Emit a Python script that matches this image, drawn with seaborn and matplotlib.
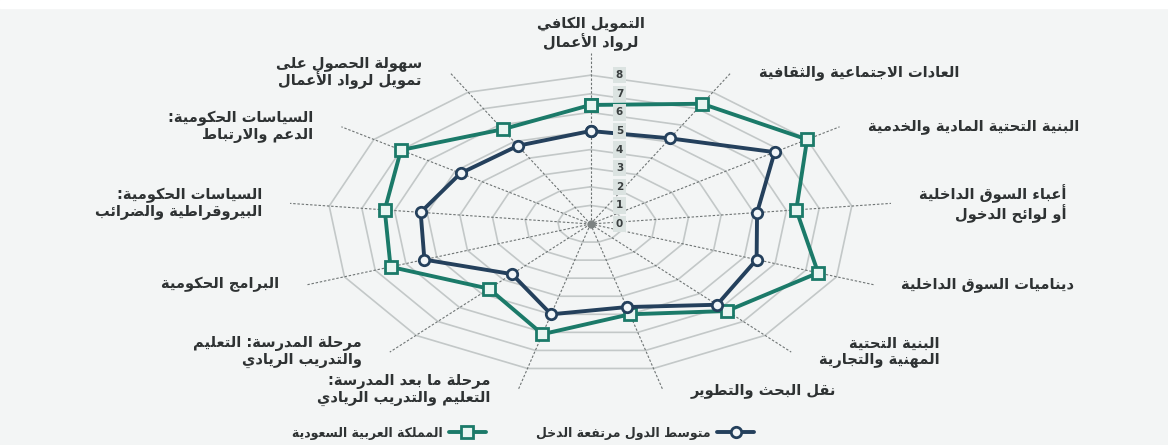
import numpy as np
import pandas as pd
import matplotlib
matplotlib.use('Agg')
import matplotlib.pyplot as plt
import matplotlib.patches as mpatches
import seaborn as sns

# axis labels, clockwise from the top
categories = [
    'التمويل الكافي\nلرواد الأعمال',
    'العادات الاجتماعية والثقافية',
    'البنية التحتية المادية والخدمية',
    'أعباء السوق الداخلية\nأو لوائح الدخول',
    'ديناميات السوق الداخلية',
    'البنية التحتية\nالمهنية والتجارية',
    'نقل البحث والتطوير',
    'مرحلة ما بعد المدرسة:\nالتعليم والتدريب الريادي',
    'مرحلة المدرسة: التعليم\nوالتدريب الريادي',
    'البرامج الحكومية',
    'السياسات الحكومية:\nالبيروقراطية والضرائب',
    'السياسات الحكومية:\nالدعم والارتباط',
    'سهولة الحصول على\nتمويل لرواد الأعمال',
]
saudi = [6.4, 7.3, 8.0, 6.3, 7.4, 6.25, 5.0, 6.1, 4.65, 6.5, 6.3, 7.0, 5.75]
high_income = [5.0, 5.2, 6.8, 5.1, 5.4, 5.8, 4.6, 5.0, 3.6, 5.4, 5.2, 4.8, 4.75]
series_names = ['المملكة العربية السعودية', 'متوسط الدول مرتفعة الدخل']
ring_values = [0, 1, 2, 3, 4, 5, 6, 7, 8]

# minimal arabic shaping: presentation forms + visual (reversed) order
AR_FORMS = {
    'ء': (0xFE80, 1), 'آ': (0xFE81, 2), 'أ': (0xFE83, 2), 'ؤ': (0xFE85, 2),
    'إ': (0xFE87, 2), 'ئ': (0xFE89, 4), 'ا': (0xFE8D, 2), 'ب': (0xFE8F, 4),
    'ة': (0xFE93, 2), 'ت': (0xFE95, 4), 'ث': (0xFE99, 4), 'ج': (0xFE9D, 4),
    'ح': (0xFEA1, 4), 'خ': (0xFEA5, 4), 'د': (0xFEA9, 2), 'ذ': (0xFEAB, 2),
    'ر': (0xFEAD, 2), 'ز': (0xFEAF, 2), 'س': (0xFEB1, 4), 'ش': (0xFEB5, 4),
    'ص': (0xFEB9, 4), 'ض': (0xFEBD, 4), 'ط': (0xFEC1, 4), 'ظ': (0xFEC5, 4),
    'ع': (0xFEC9, 4), 'غ': (0xFECD, 4), 'ف': (0xFED1, 4), 'ق': (0xFED5, 4),
    'ك': (0xFED9, 4), 'ل': (0xFEDD, 4), 'م': (0xFEE1, 4), 'ن': (0xFEE5, 4),
    'ه': (0xFEE9, 4), 'و': (0xFEED, 2), 'ى': (0xFEEF, 2), 'ي': (0xFEF1, 4),
    'لآ': (0xFEF5, 2), 'لأ': (0xFEF7, 2), 'لإ': (0xFEF9, 2), 'لا': (0xFEFB, 2),
}


def shape_line(s):
    toks = []
    i = 0
    while i < len(s):
        if s[i:i + 2] in AR_FORMS:
            toks.append(s[i:i + 2])
            i += 2
        else:
            toks.append(s[i])
            i += 1
    out = []
    for j, t in enumerate(toks):
        if t not in AR_FORMS:
            out.append(t)
            continue
        base, n = AR_FORMS[t]
        prev = toks[j - 1] if j > 0 else None
        nxt = toks[j + 1] if j + 1 < len(toks) else None
        jp = n > 1 and prev in AR_FORMS and AR_FORMS[prev][1] == 4
        jn = n == 4 and nxt in AR_FORMS and AR_FORMS[nxt][1] > 1
        off = 3 if (jp and jn) else 2 if jn else 1 if jp else 0
        out.append(chr(base + off))
    return ''.join(reversed(out))


def ar(s):
    return '\n'.join(shape_line(l) for l in s.split('\n'))


sns.set_theme(style='white')
plt.rcParams['font.family'] = ['DejaVu Sans']

W, H = 1168, 445
fig = plt.figure(figsize=(W / 100, H / 100), dpi=100)
fig.patch.set_facecolor('#f3f5f5')
fig.patches.append(mpatches.Rectangle((0, 1 - 8 / H), 1, 8 / H, transform=fig.transFigure,
                                      color='white', zorder=0))
ax = fig.add_axes([0, 0, 1, 1])
ax.set_facecolor('none')
ax.axis('off')

# px per unit (horizontal / vertical), center of the web in px
sx, sy = 32.9, 18.6
cx, cy = 590.5, 224
ax.set_xlim(-cx / sx, (W - cx) / sx)
ax.set_ylim(-(H - cy) / sy, cy / sy)

n = len(categories)
theta = np.arange(n) * 2 * np.pi / n
closed = np.append(theta, theta[0])

# grid rings
for r in ring_values[1:]:
    ax.plot(r * np.sin(closed), r * np.cos(closed), color='#c3c8c8', lw=1.2, zorder=1)

# spokes
spoke_len = 9.2
for t in theta:
    ax.plot([0, spoke_len * np.sin(t)], [0, spoke_len * np.cos(t)], color='#6f7575',
            lw=0.8, ls=(0, (2.2, 1.6)), zorder=1.5)
ax.plot([0], [0], marker='o', ms=5, color='#7d8383', zorder=2)

# data
rows = []
for name, vals in zip(series_names, [saudi, high_income]):
    for k in list(range(n)) + [0]:
        rows.append({'series': name, 'axis': k, 'value': vals[k],
                     'x': vals[k] * np.sin(theta[k]), 'y': vals[k] * np.cos(theta[k])})
df = pd.DataFrame(rows)

styles = {
    series_names[0]: dict(color='#1b7a69', marker='s', mfc='#e9f6f2', ms=8),
    series_names[1]: dict(color='#24405c', marker='o', mfc='#f2f6f8', ms=7.5),
}
for name in series_names:
    st = styles[name]
    sns.lineplot(data=df[df['series'] == name], x='x', y='y', sort=False, estimator=None,
                 color=st['color'], marker=st['marker'], mfc=st['mfc'], mec=st['color'],
                 mew=2, ms=st['ms'], lw=2.8, ax=ax, zorder=3, label=ar(name))
ax.set_xlabel('')
ax.set_ylabel('')

# radial tick labels
for r in ring_values:
    ax.text(0.88, r, str(r), ha='center', va='center', fontsize=7.5, fontweight='bold',
            color='#3a3f40', zorder=5,
            bbox=dict(boxstyle='square,pad=0.3', fc='#dbe3e1', ec='none'))

# category labels
pad = 0.85
lab_kw = dict(fontsize=10.5, fontweight='bold', color='#2e3233', linespacing=1.08)
for k, (lab, t) in enumerate(zip(categories, theta)):
    ex, ey = spoke_len * np.sin(t), spoke_len * np.cos(t)
    if k == 0:
        ax.text(ex, ey + 0.1, ar(lab), ha='center', va='bottom', multialignment='center',
                **lab_kw)
    else:
        ha = 'left' if np.sin(t) > 0 else 'right'
        ax.text(ex + (pad if ha == 'left' else -pad), ey, ar(lab), ha=ha, va='center',
                multialignment='right', **lab_kw)

h, l = ax.get_legend_handles_labels()
ax.legend(h, l, loc='center', bbox_to_anchor=(523 / W, 1 - 433 / H), ncol=2, frameon=False,
          markerfirst=False, handlelength=3.0, columnspacing=4.0, handletextpad=0.5,
          prop={'size': 9, 'weight': 'bold'}, labelcolor='#2e3233')

fig.savefig('out.png', dpi=100, facecolor=fig.get_facecolor())
